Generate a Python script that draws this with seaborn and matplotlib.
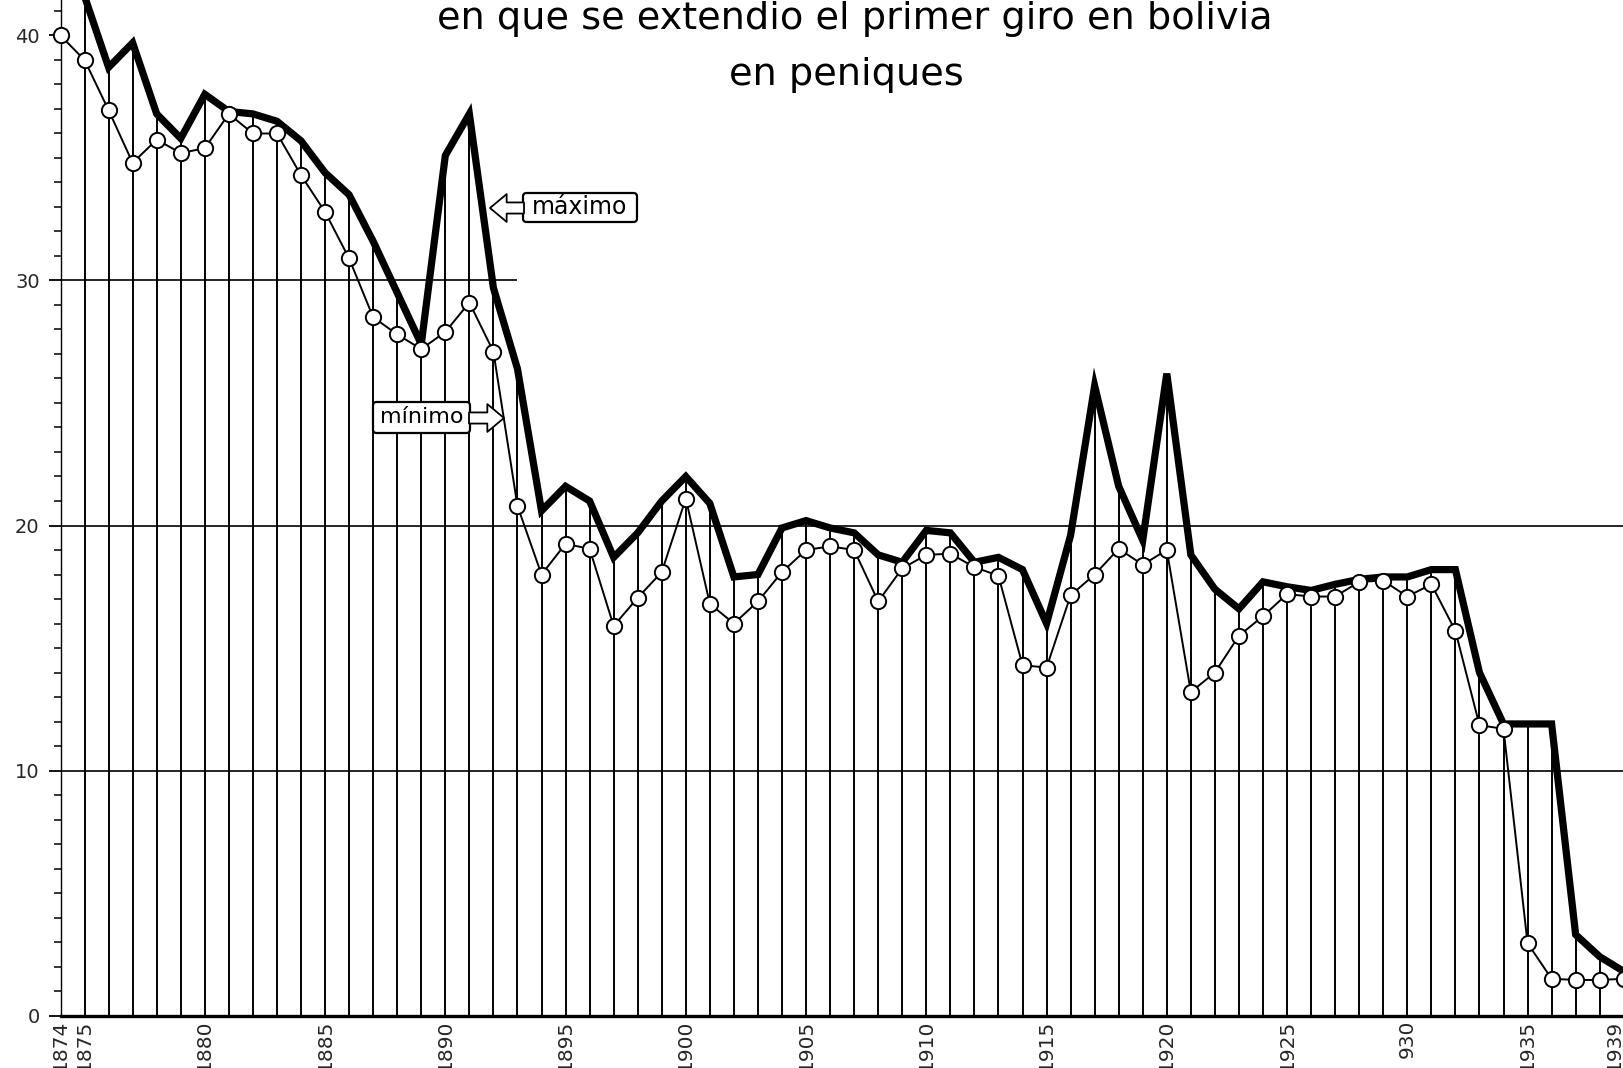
import matplotlib
matplotlib.use("Agg")
import matplotlib.pyplot as plt
import seaborn as sns
import pandas as pd
from matplotlib.ticker import MultipleLocator
from matplotlib.patches import FancyBboxPatch

# ---------------- data ----------------
years = list(range(1874, 1940))

maximo = [42.0, 41.6, 38.7, 39.7, 36.8, 35.8, 37.6, 36.9, 36.8, 36.5,
          35.7, 34.4, 33.5, 31.6, 29.5, 27.4, 35.1, 36.8, 29.7, 26.4,
          20.6, 21.6, 21.0, 18.7, 19.7, 21.0, 22.0, 20.9, 17.9, 18.0,
          19.9, 20.2, 19.9, 19.7, 18.8, 18.5, 19.8, 19.7, 18.5, 18.7,
          18.2, 16.0, 19.6, 25.7, 21.6, 19.4, 26.2, 18.8, 17.4, 16.6,
          17.7, 17.5, 17.35, 17.6, 17.8, 17.9, 17.9, 18.2, 18.2, 14.0,
          11.9, 11.9, 11.9, 3.3, 2.4, 1.8]

minimo = [40.0, 39.0, 36.95, 34.8, 35.75, 35.2, 35.4, 36.8, 36.0, 36.0,
          34.3, 32.8, 30.9, 28.5, 27.8, 27.2, 27.9, 29.1, 27.1, 20.8,
          18.0, 19.25, 19.05, 15.9, 17.05, 18.1, 21.1, 16.8, 16.0, 16.9,
          18.1, 19.0, 19.15, 19.0, 16.9, 18.25, 18.8, 18.85, 18.3, 17.95,
          14.3, 14.2, 17.15, 18.0, 19.05, 18.4, 19.0, 13.2, 14.0, 15.5,
          16.3, 17.2, 17.1, 17.1, 17.7, 17.75, 17.1, 17.6, 15.7, 11.85,
          11.7, 2.95, 1.5, 1.45, 1.45, 1.5]

xtick_years = [1874, 1875, 1880, 1885, 1890, 1895, 1900, 1905, 1910,
               1915, 1920, 1925, 1930, 1935, 1939]
xtick_labels = ["1874", "1875", "1880", "1885", "1890", "1895", "1900",
                "1905", "1910", "1915", "1920", "1925", "930", "1935", "1939"]
ytick_values = [0, 10, 20, 30, 40]
ytick_labels = ["0", "10", "20", "30", "40"]

title_line = "en que se extendio el primer giro en bolivia"
subtitle_line = "en peniques"
label_max = "máximo"
label_min = "mínimo"

df = pd.DataFrame({"year": years, "maximo": maximo, "minimo": minimo})

# ---------------- style ----------------
sns.set_theme(style="white")
plt.rcParams["font.family"] = ["DejaVu Sans"]

W, H = 1624, 1068
fig = plt.figure(figsize=(W / 100, H / 100), dpi=100)
fig.patch.set_facecolor("white")

left = 60.5 / W
bottom = (H - 1015.5) / H
ax = fig.add_axes([left, bottom, 1 - left, 1 - bottom])
ax.set_facecolor("white")

px_per_year = 24.05
px_per_unit = 24.5
x0 = 1874
x1 = x0 + (1 - left) * W / px_per_year
ytop = (1 - bottom) * H / px_per_unit
ax.set_xlim(x0, x1)
ax.set_ylim(0, ytop)

# vertical year lines up to the maximum curve
ax.vlines(df["year"], 0, df["maximo"], colors="black", lw=1.4, zorder=1)

# horizontal reference lines
ax.hlines([10, 20], x0, x1, colors="black", lw=1.2, zorder=1)
ax.hlines([30], x0, 1893, colors="black", lw=1.2, zorder=1)

# series
sns.lineplot(data=df, x="year", y="maximo", color="black", lw=5.2,
             solid_joinstyle="miter", ax=ax, zorder=3)
sns.lineplot(data=df, x="year", y="minimo", color="black", lw=1.4,
             marker="o", markersize=11, markerfacecolor="white",
             markeredgecolor="black", markeredgewidth=1.4, ax=ax, zorder=4,
             clip_on=False)

# axes styling
for s in ["top", "right"]:
    ax.spines[s].set_visible(False)
ax.spines["left"].set_linewidth(1.0)
ax.spines["left"].set_color("black")
ax.spines["bottom"].set_linewidth(2.4)
ax.spines["bottom"].set_color("black")

ax.set_xticks(xtick_years)
ax.set_xticklabels(xtick_labels, rotation=90, fontsize=14.5, va="top", ha="center")
ax.get_xticklabels()[-1].set_horizontalalignment("right")
ax.tick_params(axis="x", length=0, pad=3, bottom=False)

ax.set_yticks(ytick_values)
ax.set_yticklabels(ytick_labels, fontsize=14)
ax.yaxis.set_minor_locator(MultipleLocator(1))
ax.tick_params(axis="y", which="major", left=True, length=9, width=1.3,
               direction="out", pad=6, color="black")
ax.tick_params(axis="y", which="minor", left=True, length=5, width=1.1,
               direction="out", color="black")
ax.set_xlabel("")
ax.set_ylabel("")
ax.grid(False)

# labelled boxes with hollow arrows
def to_data(px, py):
    return x0 + (px - 60.5) / px_per_year, (1015.5 - py) / px_per_unit

def box(px0, py0, px1, py1, text, fs):
    xa, ya = to_data(px0, py1)
    xb, yb = to_data(px1, py0)
    patch = FancyBboxPatch((xa, ya), xb - xa, yb - ya,
                           boxstyle="round,pad=0,rounding_size=0.15",
                           fc="white", ec="black", lw=1.6, zorder=6,
                           mutation_aspect=px_per_year / px_per_unit)
    ax.add_patch(patch)
    ax.text((xa + xb) / 2, (ya + yb) / 2, text, ha="center", va="center",
            fontsize=fs, zorder=7, color="black")

box(523, 193, 637, 222, label_max, 17)
box(373, 402, 470, 433, label_min, 16)

arrow_style = "simple,head_length=0.6,head_width=1.0,tail_width=0.4"
ax.annotate("", xy=to_data(490, 208), xytext=to_data(524, 208),
            arrowprops=dict(arrowstyle=arrow_style, fc="white", ec="black",
                            lw=1.3, shrinkA=0, shrinkB=0, mutation_scale=20),
            zorder=6)
ax.annotate("", xy=to_data(504, 418), xytext=to_data(469, 418),
            arrowprops=dict(arrowstyle=arrow_style, fc="white", ec="black",
                            lw=1.3, shrinkA=0, shrinkB=0, mutation_scale=20),
            zorder=6)

# titles
fig.text(855 / W, 1 - 29 / H, title_line, ha="center", va="baseline",
         fontsize=27.5, color="black")
fig.text(846 / W, 1 - 85 / H, subtitle_line, ha="center", va="baseline",
         fontsize=27.5, color="black")

fig.savefig("out.png", dpi=100, facecolor="white")
